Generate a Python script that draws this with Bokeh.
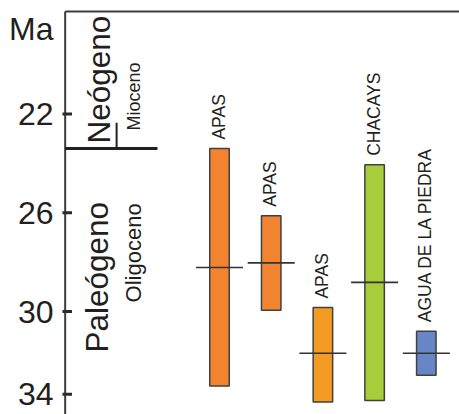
import math
from bokeh.plotting import figure
from bokeh.models import Range1d, FixedTicker, ColumnDataSource
from bokeh.core.properties import value
from bokeh.embed import file_html
from bokeh.resources import INLINE

# ---- data (ages in Ma) ----
formations = ["APAS", "APAS", "APAS", "CHACAYS", "AGUA DE LA PIEDRA"]
x_pos = [1, 2, 3, 4, 5]
age_young = [23.40, 26.12, 29.84, 24.06, 30.80]
age_old = [33.02, 29.95, 33.66, 33.60, 32.58]
age_mean = [28.22, 28.03, 31.69, 28.82, 31.69]
bar_colors = ["#F28431", "#F28431", "#F49B23", "#A7CD3A", "#6786C5"]

tick_values = [22, 26, 30, 33.35]
tick_labels = ["22", "26", "30", "34"]
unit_label = "Ma"
unit_label_pos = 18.55

period_names = ["Neógeno", "Paleógeno"]
period_label_x = [-1.33, -1.378]
period_label_y = [23.195, 31.66]
epoch_names = ["Mioceno", "Oligoceno"]
epoch_label_x = [-0.663, -0.664]
epoch_label_y = [22.668, 29.63]
boundary_age = 23.40
top_age = 17.849

X_START, X_END = -2.056, 5.642
Y_BOTTOM, Y_TOP = 34.171, 17.768
AXIS_X = -1.985

FONT = "Liberation Sans"
TXT = "#231F20"
LINE = "#3C3C3C"

p = figure(width=459, height=414, output_backend="svg", toolbar_location=None,
           x_range=Range1d(X_START, X_END), y_range=Range1d(Y_BOTTOM, Y_TOP),
           x_axis_location=None, min_border_left=61, min_border_right=0,
           min_border_top=9, min_border_bottom=0)
p.outline_line_color = None
p.grid.visible = False
p.background_fill_color = "white"
p.border_fill_color = "white"

ya = p.yaxis[0]
all_ticks = [unit_label_pos] + tick_values
ya.ticker = FixedTicker(ticks=all_ticks)
ya.major_label_overrides = {v: l for v, l in zip(all_ticks, [unit_label] + tick_labels)}
ya.major_label_text_font = FONT
ya.major_label_text_font_size = "32px"
ya.major_label_text_color = TXT
ya.major_label_standoff = 8
ya.major_tick_out = 0
ya.major_tick_in = 0
ya.major_tick_line_color = None
ya.minor_tick_line_color = None
ya.axis_line_color = None

# axis line, tick marks, top line, period boundary
p.segment(x0=[AXIS_X], y0=[top_age], x1=[AXIS_X], y1=[Y_BOTTOM],
          line_color=LINE, line_width=2)
p.segment(x0=[AXIS_X - 0.052] * len(tick_values), y0=tick_values,
          x1=[AXIS_X + 0.132] * len(tick_values), y1=tick_values,
          line_color="#2A2A2A", line_width=3)
p.segment(x0=[AXIS_X], y0=[top_age], x1=[X_END], y1=[top_age],
          line_color=LINE, line_width=2)
p.segment(x0=[AXIS_X], y0=[boundary_age], x1=[-0.2], y1=[boundary_age],
          line_color="#231F20", line_width=3)
p.segment(x0=[-0.99], y0=[22.35], x1=[-0.99], y1=[boundary_age],
          line_color="#231F20", line_width=2)

# period / epoch labels
p.text(x=period_label_x, y=period_label_y, text=period_names, angle=math.pi / 2,
       text_font=value(FONT), text_font_size="31.5px", text_color=TXT,
       text_align="left", text_baseline="alphabetic")
p.text(x=epoch_label_x, y=epoch_label_y, text=epoch_names, angle=math.pi / 2,
       text_font=value(FONT), text_font_size=["18px", "22px"], text_color=TXT,
       text_align="left", text_baseline="alphabetic")

src = ColumnDataSource(dict(x=x_pos, top=age_young, bottom=age_old, mean=age_mean,
                            color=bar_colors, name=formations,
                            x0=[v - 0.455 for v in x_pos], x1=[v + 0.455 for v in x_pos]))

p.vbar(x="x", top="top", bottom="bottom", width=0.377, fill_color="color",
       line_color="#404040", line_width=1.5, source=src)
p.segment(x0="x0", y0="mean", x1="x1", y1="mean", line_color="#333333",
          line_width=1.6, source=src)
p.text(x="x", y="top", text="name", angle=math.pi / 2, x_offset=-1, y_offset=-9,
       text_font=value(FONT), text_font_size="17.5px", text_color=TXT,
       text_align="left", text_baseline="alphabetic", source=src)

open("out.html", "w").write(file_html(p, INLINE))
